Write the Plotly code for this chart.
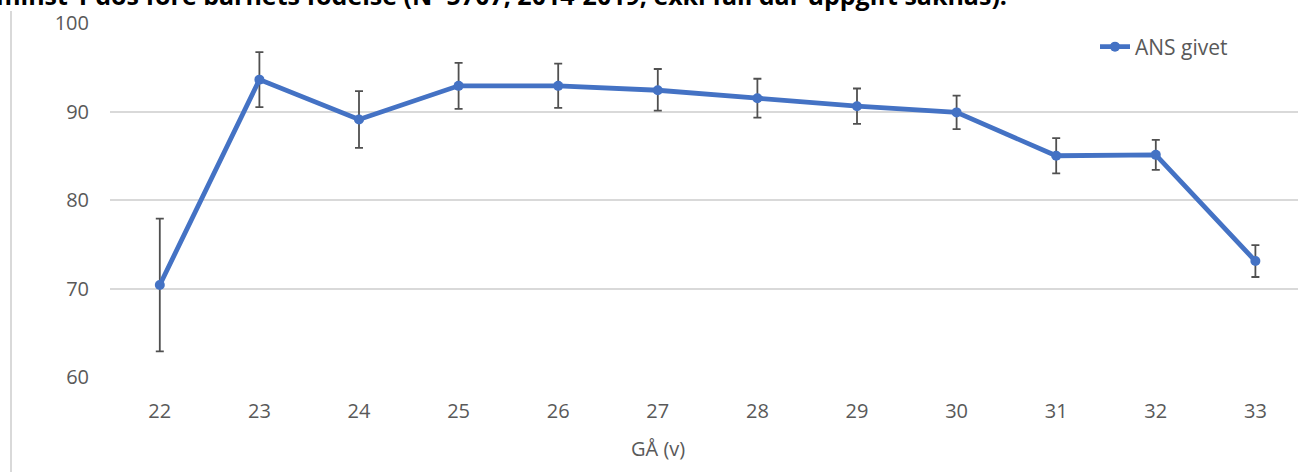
import plotly.graph_objects as go

# Gestational age (weeks) and share with ANS given (%), with error margins
ga_weeks = [22, 23, 24, 25, 26, 27, 28, 29, 30, 31, 32, 33]
ans_given = [70.4, 93.6, 89.1, 92.9, 92.9, 92.4, 91.5, 90.6, 89.9, 85.0, 85.1, 73.1]
err_plus = [7.5, 3.1, 3.2, 2.6, 2.5, 2.4, 2.2, 2.0, 1.9, 2.0, 1.7, 1.8]
err_minus = [7.5, 3.1, 3.2, 2.6, 2.5, 2.3, 2.2, 2.0, 1.9, 2.0, 1.7, 1.8]
y_ticks = [60, 70, 80, 90, 100]

title_text = "minst 1 dos före barnets födelse (N=5707, 2014-2019, exkl fall där uppgift saknas)."
x_title = "GÅ (v)"

BLUE = "#4472C4"
GREY_TXT = "#595959"
GRID = "#D9D9D9"
FONT = "Open Sans, sans-serif"

W, H = 1298, 472
ML, MR, MT, MB = 110, 0, 23, 95
plot_w = W - ML - MR
plot_h = H - MT - MB

fig = go.Figure()
fig.add_trace(go.Scatter(
    x=ga_weeks, y=ans_given, name="ANS givet",
    mode="lines+markers",
    line=dict(color=BLUE, width=4.8),
    marker=dict(color=BLUE, size=10),
    error_y=dict(type="data", symmetric=False, array=err_plus, arrayminus=err_minus,
                 color="#505050", thickness=1.8, width=4),
))

fig.add_annotation(
    text=f"<b>{title_text}</b>", xref="paper", yref="paper",
    x=(-6 - ML) / plot_w, y=(plot_h + MT + 5) / plot_h,
    xanchor="left", yanchor="middle", showarrow=False,
    font=dict(family="Open Sans, sans-serif", size=25, color="#000000"),
)

# x-axis title, placed under the chart body
fig.add_annotation(
    text=x_title, xref="paper", yref="paper",
    x=(658 - ML) / plot_w, y=-(448 - MT - plot_h) / plot_h,
    xanchor="center", yanchor="middle", showarrow=False,
    font=dict(family=FONT, size=20, color=GREY_TXT),
)

# chart area frame edge on the left
fig.add_shape(type="line", xref="paper", yref="paper",
              x0=(11 - ML) / plot_w, x1=(11 - ML) / plot_w,
              y0=-MB / plot_h - 0.05, y1=(plot_h + MT - 11) / plot_h,
              line=dict(color="#D9D9D9", width=2))

fig.update_layout(
    width=W, height=H,
    margin=dict(l=ML, r=MR, t=MT, b=MB),
    paper_bgcolor="white", plot_bgcolor="white",
    font=dict(family=FONT, size=20, color=GREY_TXT),
    showlegend=True,
    legend=dict(x=(1095 - ML) / plot_w, y=(plot_h + MT - 47) / plot_h,
                xanchor="left", yanchor="middle",
                font=dict(family=FONT, size=21, color=GREY_TXT),
                bgcolor="rgba(0,0,0,0)", itemwidth=30),
    xaxis=dict(
        range=[21.5, 21.5 + plot_w / 99.6], tickmode="array", tickvals=ga_weeks,
        ticktext=[str(v) for v in ga_weeks],
        showgrid=False, zeroline=False, showline=False, ticks="",
        ticklabelstandoff=20,
    ),
    yaxis=dict(
        range=[60, 100], tickvals=y_ticks,
        showgrid=True, gridcolor=GRID, gridwidth=2,
        zeroline=False, showline=False, ticks="",
        ticklabelstandoff=20,
    ),
)

fig.write_html("out.html")
